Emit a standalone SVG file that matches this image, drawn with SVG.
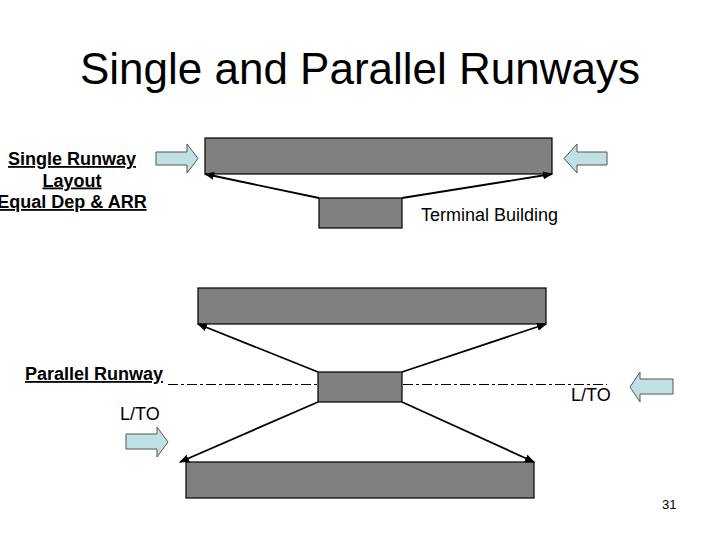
<svg xmlns="http://www.w3.org/2000/svg" width="720" height="540" viewBox="0 0 720 540">
<defs>
<style>
.rw{fill:#808080;stroke:#000;stroke-width:1.2}
.blue{fill:#BFE1E4;stroke:#555;stroke-width:1}
.t{font-family:"Liberation Sans",Arial,sans-serif;fill:#000}
.b{font-weight:bold;text-decoration:underline}
.con{stroke:#000;stroke-width:1.8;fill:none;marker-end:url(#ah)}
.dd{stroke:#000;stroke-width:1;fill:none;stroke-dasharray:10 3 3 3}
</style>
<marker id="ah" markerUnits="userSpaceOnUse" markerWidth="10" markerHeight="8" refX="9" refY="4" orient="auto">
<path d="M0,0 L10,4 L0,8 Z" fill="#000"/>
</marker>
</defs>
<rect width="720" height="540" fill="#fff"/>
<text class="t" x="360" y="84" font-size="44" text-anchor="middle">Single and Parallel Runways</text>

<g id="label-single">
<text class="t b" x="72" y="165" font-size="18" text-anchor="middle">Single Runway</text>
<text class="t b" x="72" y="186.5" font-size="18" text-anchor="middle">Layout</text>
<text class="t b" x="72" y="208" font-size="18" text-anchor="middle">Equal Dep &amp; ARR</text>
</g>
<g id="runway-single"><rect class="rw" x="205" y="138" width="347" height="36"/></g>
<g id="terminal-single"><rect class="rw" x="319" y="198" width="83" height="30"/></g>
<g id="label-terminal"><text class="t" x="421" y="221" font-size="18">Terminal Building</text></g>
<g id="arrow-in-left"><polygon class="blue" points="156,152 187,152 187,144 198,158.5 187,173 187,165 156,165"/></g>
<g id="arrow-in-right"><polygon class="blue" points="607,152 577,152 577,144 564,158.5 577,173 577,165 607,165"/></g>

<g id="runway-par-top"><rect class="rw" x="198" y="288" width="348" height="36"/></g>
<g id="terminal-par"><rect class="rw" x="318" y="372" width="84" height="30"/></g>
<g id="runway-par-bottom"><rect class="rw" x="186" y="462" width="348" height="36"/></g>
<g id="label-parallel"><text class="t b" x="25" y="380" font-size="18">Parallel Runway</text></g>
<g id="label-lto-left"><text class="t" x="120" y="420" font-size="18">L/TO</text></g>
<g id="label-lto-right"><text class="t" x="571" y="401" font-size="18">L/TO</text></g>
<g id="arrow-lto-left"><polygon class="blue" points="126,434 157,434 157,427 168,442 157,457 157,449 126,449"/></g>
<g id="arrow-lto-right"><polygon class="blue" points="673,379 640,379 640,372 630,387 640,402 640,394 673,394"/></g>

<g id="connectors">
<line class="con" x1="319" y1="198" x2="205" y2="174"/>
<line class="con" x1="402" y1="198" x2="552" y2="174"/>
<line class="con" x1="318" y1="372" x2="198" y2="324"/>
<line class="con" x1="402" y1="372" x2="546" y2="324"/>
<line class="con" x1="318" y1="402" x2="180" y2="462"/>
<line class="con" x1="402" y1="402" x2="534" y2="462"/>
<line class="dd" x1="168" y1="384.5" x2="317" y2="384.5"/>
<line class="dd" x1="403" y1="384.5" x2="607" y2="384.5"/>
</g>
<text class="t" x="662" y="509" font-size="13">31</text>
</svg>
